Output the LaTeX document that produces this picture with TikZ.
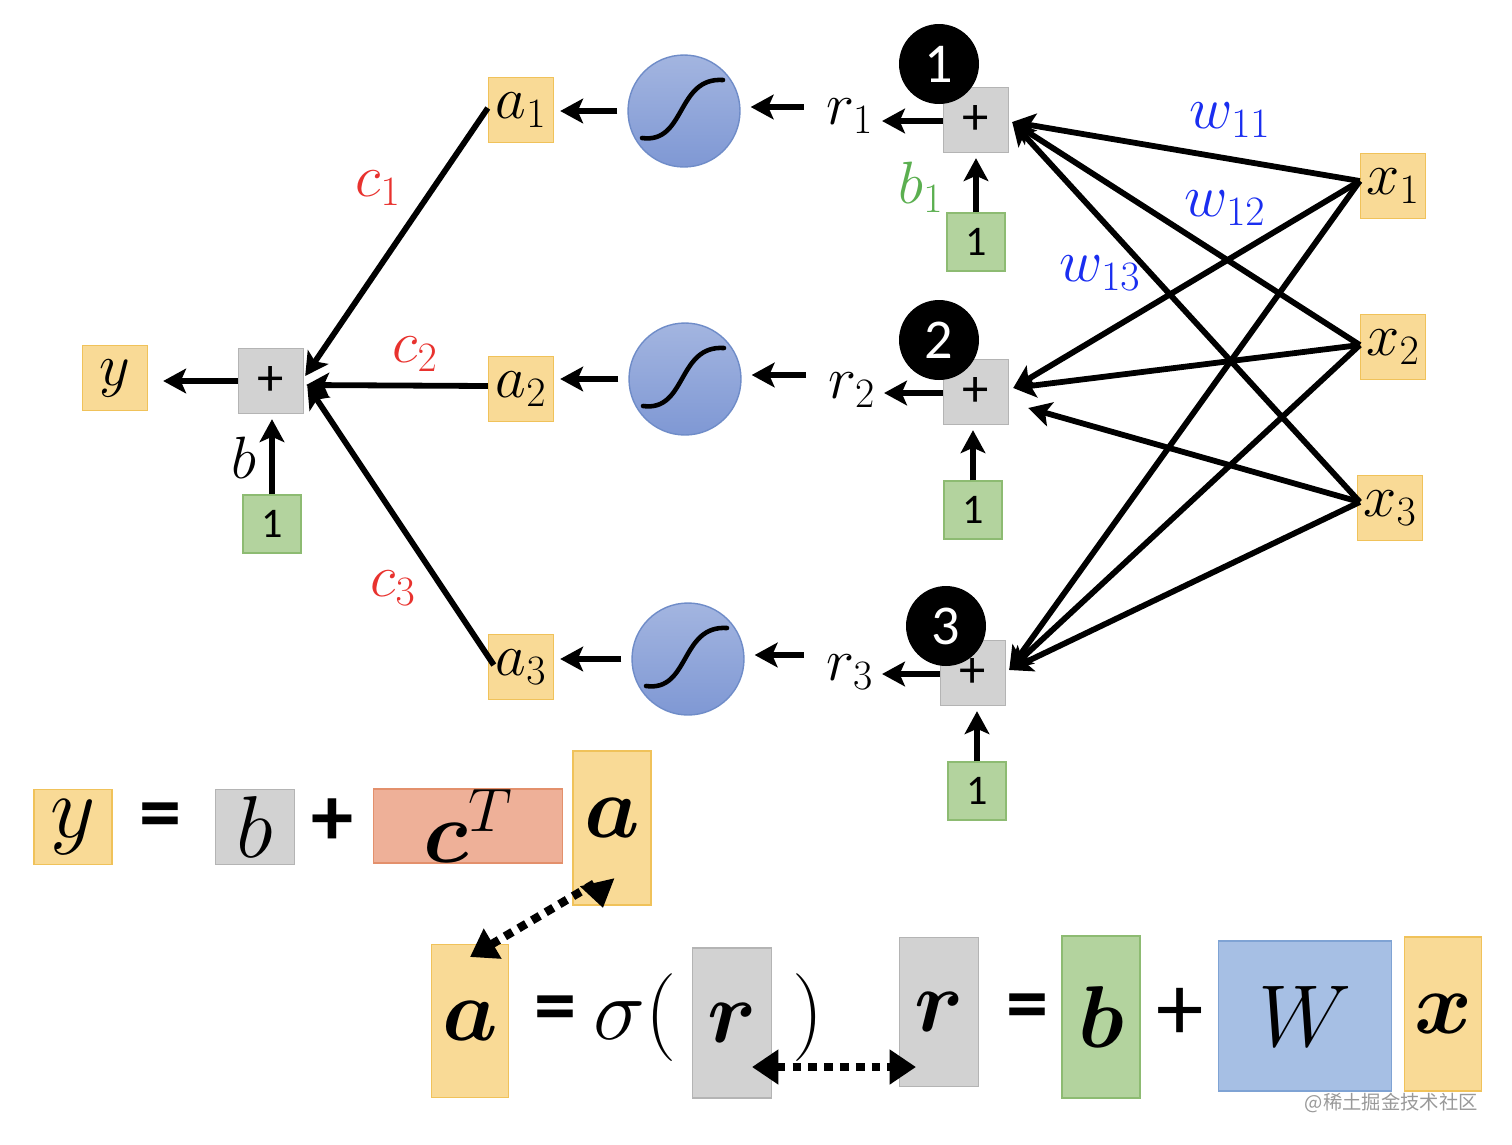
\documentclass[tikz,border=0pt]{standalone}
\usepackage{fix-cm}
\usepackage{amsmath,bm}
\usepackage{fontspec}
\newfontfamily\calib{Carlito}
\newfontfamily\cjk{Noto Sans CJK SC}
\usetikzlibrary{arrows.meta,calc}
\definecolor{yfill}{HTML}{F9DA96}
\definecolor{ybord}{HTML}{F0C25A}
\definecolor{gfill}{HTML}{D2D2D2}
\definecolor{gbord}{HTML}{B4B4B4}
\definecolor{grfill}{HTML}{B3D39E}
\definecolor{grbord}{HTML}{8DBB72}
\definecolor{sfill}{HTML}{EEB098}
\definecolor{sbord}{HTML}{E3906C}
\definecolor{wfill}{HTML}{A6BFE4}
\definecolor{wbord}{HTML}{7FA3D4}
\definecolor{sigtop}{HTML}{A3B5E0}
\definecolor{sigbot}{HTML}{7F98D4}
\definecolor{sigbord}{HTML}{6F8CC8}
\definecolor{cred}{HTML}{E8322E}
\definecolor{wblue}{HTML}{1A2EF0}
\definecolor{bgreen}{HTML}{5BAF50}
\newcommand\lab{\fontsize{34}{40}\selectfont}
\newcommand\bigsz{\fontsize{50}{60}\selectfont}
\newcommand\eqsz{\calib\bfseries\fontsize{48}{54}\selectfont}
\tikzset{
  bx/.style={line width=0.8pt, inner sep=0pt},
  ybox/.style={bx, draw=ybord, fill=yfill, minimum width=1.3cm, minimum height=1.3cm, font=\lab},
  sumbox/.style={bx, draw=gbord, fill=gfill, minimum width=1.3cm, minimum height=1.3cm, font=\calib\fontsize{30}{34}\selectfont},
  onebox/.style={bx, draw=grbord, fill=grfill, minimum width=1.16cm, minimum height=1.16cm, font=\calib\fontsize{24}{28}\selectfont},
  sig/.style={circle, draw=sigbord, line width=0.8pt, top color=sigtop, bottom color=sigbot, minimum size=2.24cm, inner sep=0pt},
  sigcurve/.style={line width=2.6pt, line cap=round},
  numc/.style={circle, fill=black, minimum size=1.6cm, inner sep=0pt, text=white, font=\calib\fontsize{32}{36}\selectfont},
  txt/.style={font=\lab, inner sep=2pt},
  arr/.style={line width=3.3pt, -{Stealth[length=13pt,width=14pt,inset=3pt]}},
  dots/.style={line width=4.8pt, dash pattern=on 5pt off 4pt, {Triangle[length=15pt,width=19pt]}-{Triangle[length=15pt,width=19pt]}},
  eqbox/.style={bx, font=\bigsz},
}
\begin{document}
\begin{tikzpicture}[x=0.02cm,y=-0.02cm]
\useasboundingbox (0,0) rectangle (1512,1144);

% ---------- output part ----------
\node[ybox] (y) at (115,378) {$y$};
\node[sumbox] (sy) at (271,381) {+};
\node[onebox] (gy) at (272,524) {1};
\node[txt] (lb) at (244,458) {$b$};

% ---------- hidden layer ----------
\foreach \i/\ay/\sx/\sy/\rx/\ry/\px/\py/\gx/\gy/\nx/\ny in
  {1/110/684/111/850/116/976/120/976/242/939/64,
   2/389/685/379/852/390/976/392/973/510/939/340,
   3/667/688/659/850/672/973/673/977/791/946/626}{
  \node[ybox] (a\i) at (521,\ay) {$a_{\i}$};
  \node[sig] (sg\i) at (\sx,\sy) {};
  \draw[sigcurve] ($(sg\i)+(-42,27)$) .. controls ($(sg\i)+(2,33)$) and ($(sg\i)+(-8,-34)$) .. ($(sg\i)+(39,-31)$);
  \node[txt] (r\i) at (\rx,\ry) {$r_{\i}$};
  \node[sumbox] (s\i) at (\px,\py) {+};
  \node[onebox] (g\i) at (\gx,\gy) {1};
  \node[numc] (n\i) at (\nx,\ny) {\i};
}

% inputs
\node[ybox] (x1) at (1393,186) {$x_1$};
\node[ybox] (x2) at (1393,347) {$x_2$};
\node[ybox] (x3) at (1390,508) {$x_3$};

% labels
\node[txt, text=cred] (c1) at (378,188) {$c_1$};
\node[txt, text=cred] (c2) at (415,354) {$c_2$};
\node[txt, text=cred] (c3) at (393,588) {$c_3$};
\node[txt, text=bgreen] (b1) at (921,187) {$b_1$};
\node[txt, text=wblue] (w11) at (1230,120) {$w_{11}$};
\node[txt, text=wblue] (w12) at (1225,208) {$w_{12}$};
\node[txt, text=wblue] (w13) at (1100,273) {$w_{13}$};

% connectors: output part
\draw[arr, shorten >=0.3cm] (sy.west) -- (sy.west -| y.east);
\draw[arr, shorten >=0.1cm] (gy.north) -- (gy.north |- sy.south);
\draw[arr] ($(a1.west)+(0,-2)$) -- ($(sy.east)+(1,-5)$);
\draw[arr] ($(a2.west)+(0,-3)$) -- ($(sy.east)+(2,4)$);
\draw[arr] ($(a3.west)+(6,-2)$) -- ($(sy.east)+(3,4)$);

% connectors: hidden layer
\foreach \i in {1,2,3}{
  \draw[arr, shorten <=0.2cm, shorten >=0.12cm] (sg\i.west) -- (sg\i.west -| a\i.east);
  \coordinate (q\i) at ($(sg\i.east)+(0,-4)$);
  \draw[arr, shorten <=0.38cm, shorten >=0.2cm] (q\i -| r\i.west) -- (q\i);
  \coordinate (p\i) at ($(s\i.west)+(0,1)$);
  \draw[arr, shorten >=0.1cm] (p\i) -- (p\i -| r\i.east);
  \draw[arr, shorten >=0.1cm] (g\i.north) -- (g\i.north |- s\i.south);
}

% connectors: inputs to sums
\coordinate (e1) at ($(s1.east)+(3,2)$);
\coordinate (e2) at ($(s2.east)+(4,-4)$);
\coordinate (e2b) at ($(s2.east)+(19,16)$);
\coordinate (e3) at ($(s3.east)+(3,-3)$);
\coordinate (o1) at ($(x1.west)+(0,-5)$);
\coordinate (o2) at ($(x2.west)+(0,-2)$);
\coordinate (o3) at ($(x3.west)+(3,-6)$);
\foreach \o in {o1,o2,o3}{
  \draw[arr] (\o) -- (e1);
  \draw[arr] (\o) -- (e3);
}
\draw[arr] (o1) -- (e2);
\draw[arr] (o2) -- (e2);
\draw[arr] (o3) -- (e2b);

% ---------- equation 1 ----------
\node[eqbox, draw=ybord, fill=yfill, minimum width=1.56cm, minimum height=1.5cm] (ey) at (73,827) {$y$};
\node[font=\eqsz] (eq1) at (161,822) {=};
\node[eqbox, draw=gbord, fill=gfill, minimum width=1.58cm, minimum height=1.5cm] (eb) at (255,827) {$b$};
\node[font=\eqsz] (pl1) at (332,822) {+};
\node[eqbox, draw=sbord, fill=sfill, minimum width=3.78cm, minimum height=1.44cm] (ec) at (468,826) {$\bm{c}^{T}$};
\node[eqbox, draw=ybord, fill=yfill, minimum width=1.56cm, minimum height=3.08cm] (ea) at (612,828) {};
\node[font=\bigsz] (eat) at (612,818) {$\bm{a}$};

% ---------- equation 2 ----------
\node[eqbox, draw=ybord, fill=yfill, minimum width=1.54cm, minimum height=3.06cm] (ba) at (470,1021) {$\bm{a}$};
\node[font=\eqsz] (eq2) at (555,1015) {=};
\node[font=\bigsz] (sgm) at (635,1018) {$\sigma($};
\node[eqbox, draw=gbord, fill=gfill, minimum width=1.58cm, minimum height=3cm] (rb1) at (732,1023) {$\bm{r}$};
\node[font=\bigsz] (cp) at (808,1018) {$)$};
\node[eqbox, draw=gbord, fill=gfill, minimum width=1.58cm, minimum height=2.98cm] (rb2) at (939,1012) {};
\node[font=\bigsz] (rb2t) at (939,1012) {$\bm{r}$};
\node[font=\eqsz] (eq3) at (1027,1013) {=};
\node[eqbox, draw=grbord, fill=grfill, minimum width=1.56cm, minimum height=3.24cm] (bb) at (1101,1017) {$\bm{b}$};
\node[font=\calib\fontsize{54}{60}\selectfont] (pl2) at (1180,1014) {+};
\node[eqbox, draw=wbord, fill=wfill, minimum width=3.46cm, minimum height=3cm] (wb) at (1305,1016) {$W$};
\node[eqbox, draw=ybord, fill=yfill, minimum width=1.54cm, minimum height=3.08cm] (xb) at (1443,1014) {$\bm{x}$};

% dotted links
\coordinate (d1) at (603,908);
\coordinate (d2) at (470,957);
\draw[dots] (d2) -- (597,882) -- (d1);
\coordinate (d3) at (752,1067);
\coordinate (d4) at (916,1067);
\draw[dots] (d3) -- (d4);

% watermark
\node[font=\cjk\fontsize{11}{13}\selectfont, text=black!40, anchor=east] (wm) at (1484,1103) {@稀土掘金技术社区};
\end{tikzpicture}
\end{document}
